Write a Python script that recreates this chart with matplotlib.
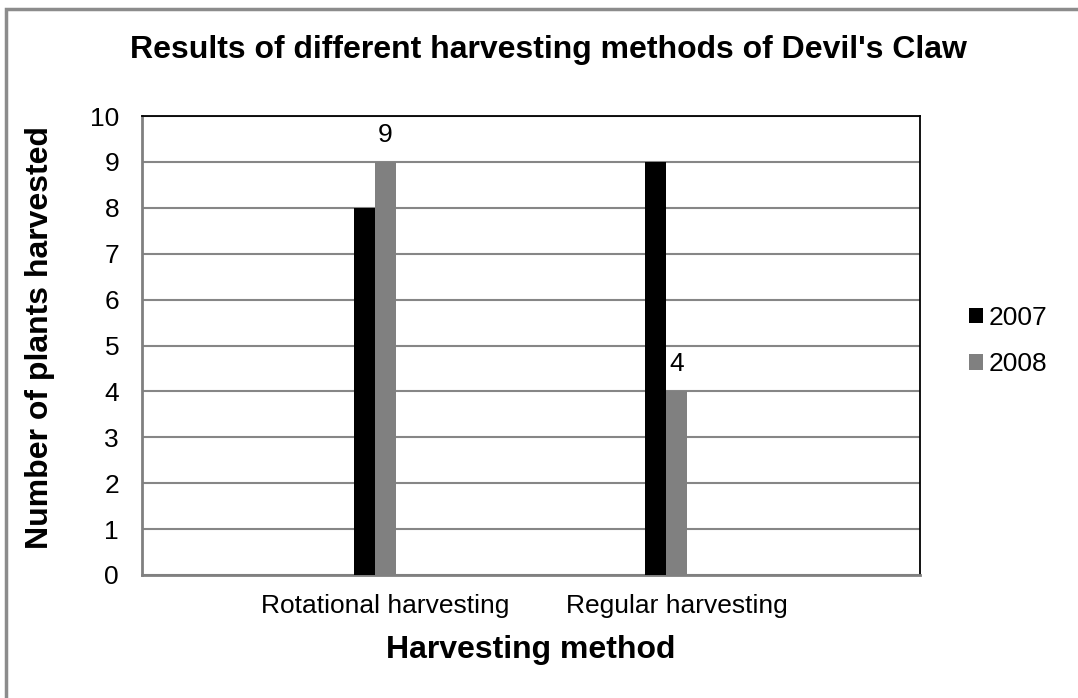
import matplotlib
matplotlib.use('Agg')
import matplotlib.pyplot as plt
from matplotlib.patches import Rectangle, Patch
import numpy as np

plt.rcParams['font.family'] = ['Liberation Sans', 'DejaVu Sans']

methods = ['Rotational harvesting', 'Regular harvesting']
years = ['2007', '2008']
plants_2007 = [8, 9]
plants_2008 = [9, 4]
bar_colors = ['#000000', '#808080']

fig = plt.figure(figsize=(10.78, 6.98), dpi=100)
ax = fig.add_axes([142 / 1078, 1 - 575 / 698, 778 / 1078, 459 / 698])

x = np.arange(len(methods))
w = 0.072
b07 = ax.bar(x - w, plants_2007, w, color=bar_colors[0], zorder=3)
b08 = ax.bar(x, plants_2008, w, color=bar_colors[1], zorder=3)
ax.bar_label(b08, padding=11, fontsize=19)

ax.set_xlim(-0.8333, 1.8333)
ax.set_ylim(0, 10)
ax.set_yticks(range(0, 11))
ax.set_xticks(x)
ax.set_xticklabels(methods)
ax.tick_params(axis='both', length=0, labelsize=19)
ax.tick_params(axis='y', pad=16.5)
ax.tick_params(axis='x', pad=14)
ax.yaxis.grid(True, color='#868686', linewidth=1.5, zorder=0)
ax.set_axisbelow(True)

for side in ['left', 'bottom']:
    ax.spines[side].set_color('#808080')
    ax.spines[side].set_linewidth(2)
for side in ['top', 'right']:
    ax.spines[side].set_color('#000000')
    ax.spines[side].set_linewidth(1.3)

fig.text(548 / 1078, 1 - 50 / 698, "Results of different harvesting methods of Devil's Claw",
         ha='center', va='center', fontsize=23, fontweight='bold')
fig.text(531 / 1078, 1 - 650 / 698, 'Harvesting method',
         ha='center', va='center', fontsize=23, fontweight='bold')
fig.text(40 / 1078, 1 - 338 / 698, 'Number of plants harvested',
         ha='center', va='center', fontsize=23, fontweight='bold', rotation=90)

handles = [Patch(facecolor=c, edgecolor='none') for c in bar_colors]
fig.legend(handles, years, loc='center left', bbox_to_anchor=(945 / 1078, 1 - 341 / 698),
           frameon=False, fontsize=19, handlelength=0.53, handleheight=0.53,
           handletextpad=0.23, labelspacing=0.85)

# grey frame around the chart
fig.patches.append(Rectangle((6 / 1078, -0.1), 1.2, 0.1 + (1 - 9 / 698), transform=fig.transFigure,
                             fill=False, edgecolor='#8c8c8c', linewidth=2.5))

fig.savefig('out.png', dpi=100, facecolor='white')
